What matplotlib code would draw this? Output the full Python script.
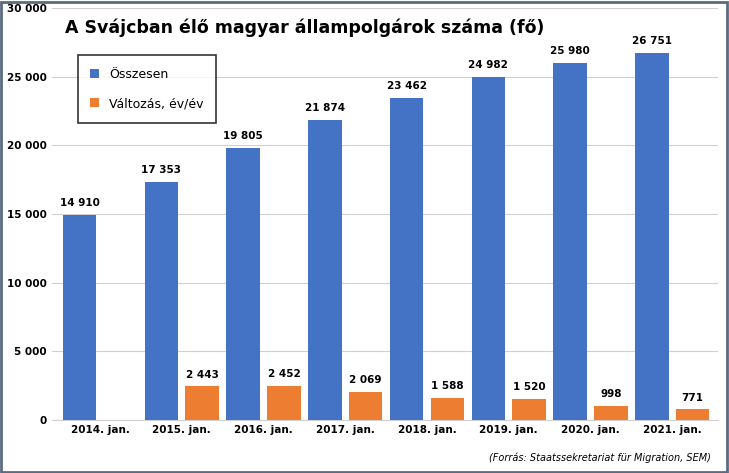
import numpy as np
import matplotlib.pyplot as plt
from matplotlib.patches import Rectangle

categories = ['2014. jan.', '2015. jan.', '2016. jan.', '2017. jan.',
              '2018. jan.', '2019. jan.', '2020. jan.', '2021. jan.']
total = [14910, 17353, 19805, 21874, 23462, 24982, 25980, 26751]
change = [None, 2443, 2452, 2069, 1588, 1520, 998, 771]


def fmt(v):
    return f'{v:,}'.replace(',', ' ')


fig = plt.figure(figsize=(7.29, 4.73), dpi=100)
ax = fig.add_axes([0.071, 0.112, 0.914, 0.871])

x = np.arange(len(categories))
w = 0.41
off = 0.25
ax.bar(x - off, total, w, color='#4472C4', label='Összesen', zorder=3)
ch = [c if c is not None else 0 for c in change]
ax.bar(x + off, ch, w, color='#ED7D31', label='Változás, év/év', zorder=3)

for i, v in enumerate(total):
    ax.text(x[i] - off, v + 500, fmt(v), ha='center', va='bottom',
            fontsize=7.5, fontweight='bold')
for i, v in enumerate(change):
    if v is not None:
        ax.text(x[i] + off, v + 500, fmt(v), ha='center', va='bottom',
                fontsize=7.5, fontweight='bold')

ax.set_ylim(0, 30000)
ax.set_xlim(-0.59, 7.56)
ax.set_yticks(range(0, 30001, 5000))
ax.set_yticklabels([fmt(v) for v in range(0, 30001, 5000)], fontsize=7.5,
                   fontweight='bold')
ax.set_xticks(x)
ax.set_xticklabels(categories, fontsize=7.5, fontweight='bold')
ax.tick_params(length=0)
ax.grid(axis='y', color='#d0d0d0', linewidth=0.8, zorder=0)
for s in ['top', 'right', 'left']:
    ax.spines[s].set_visible(False)
ax.spines['bottom'].set_color('#d0d0d0')

ax.text(0.02, 0.975, 'A Svájcban élő magyar állampolgárok száma (fő)',
        transform=ax.transAxes, fontsize=12.5, fontweight='bold', va='top')
leg = ax.legend(loc='upper left', bbox_to_anchor=(0.03, 0.9), fontsize=9,
                fancybox=False, edgecolor='black', borderpad=1.0,
                labelspacing=1.3, handlelength=0.7, handleheight=0.7)
leg.get_frame().set_linewidth(1.2)

fig.text(0.975, 0.025, '(Forrás: Staatssekretariat für Migration, SEM)',
         ha='right', fontsize=7, style='italic')
fig.patches.append(Rectangle((0.002, 0.003), 0.995, 0.993,
                             transform=fig.transFigure, fill=False,
                             edgecolor='#5a6a80', linewidth=2))

fig.savefig('out.png', dpi=100)
